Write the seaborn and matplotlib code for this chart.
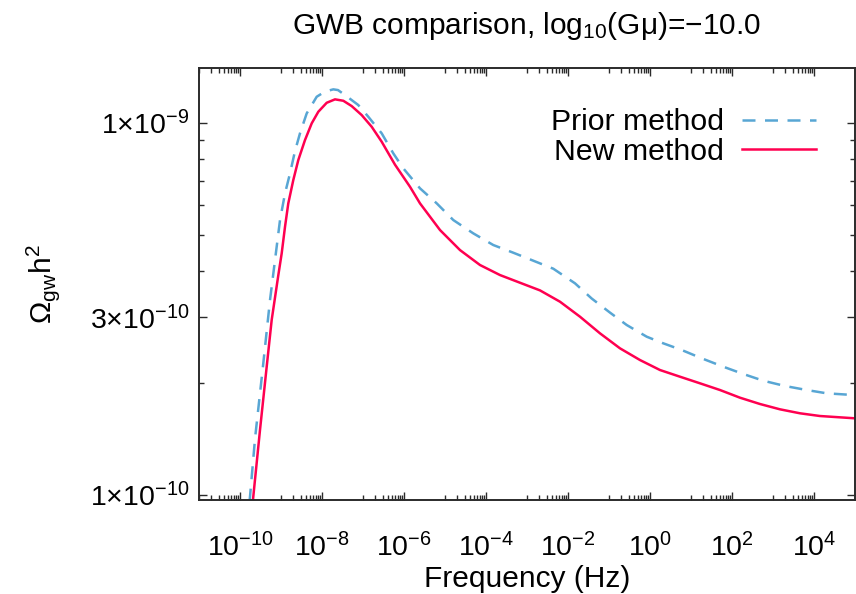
import numpy as np
import pandas as pd
import matplotlib
matplotlib.use('Agg')
import matplotlib.pyplot as plt
import seaborn as sns
from matplotlib.ticker import FixedLocator, FixedFormatter, NullFormatter

# =============================================================================
# Data (log10 of frequency in Hz, log10 of Omega_gw h^2)
# =============================================================================

prior_logf = [-9.93, -9.756, -9.634, -9.432, -9.268, -9.146, -9.024, -8.902,
              -8.780, -8.659, -8.537, -8.373, -8.129, -7.927, -7.724, -7.61,
              -7.439, -7.115, -6.871, -6.544, -6.261, -6.017, -5.610, -5.202,
              -4.798, -4.310, -3.822, -3.334, -2.968, -2.359, -1.829, -1.422,
              -0.976, -0.568, -0.080, 0.324, 0.773, 1.261, 1.788, 2.276,
              2.763, 3.293, 3.822, 4.310, 4.959, 5.0]
prior_logom = [-10.2, -10.006, -9.85, -9.647, -9.4765, -9.3688, -9.2611, -9.1892,
               -9.1354, -9.0757, -9.0277, -8.974, -8.9292, -8.9152, -8.9093, -8.9112,
               -8.9246, -8.9515, -8.983, -9.0277, -9.0816, -9.122, -9.1758, -9.2162,
               -9.2611, -9.297, -9.3284, -9.3491, -9.3652, -9.3921, -9.4315, -9.4724,
               -9.5103, -9.5437, -9.5752, -9.593, -9.611, -9.6334, -9.656, -9.6756,
               -9.6937, -9.7079, -9.7187, -9.7276, -9.7322, -9.7325]

new_logf = [-9.85, -9.676, -9.512, -9.349, -9.227, -9.066, -8.983, -8.902,
            -8.822, -8.700, -8.578, -8.415, -8.251, -8.090, -7.885, -7.683,
            -7.480, -7.276, -7.032, -6.788, -6.544, -6.220, -5.854, -5.610,
            -5.122, -4.634, -4.146, -3.659, -3.171, -2.683, -2.195, -1.707,
            -1.220, -0.732, -0.244, 0.244, 0.732, 1.220, 1.707, 2.195,
            2.683, 3.171, 3.659, 4.146, 5.0]
new_logom = [-10.2, -10.006, -9.826, -9.656, -9.530, -9.41, -9.3507, -9.2791,
             -9.2162, -9.1534, -9.0996, -9.0458, -9.0008, -8.9696, -8.9454, -8.9362,
             -8.9400, -8.9543, -8.9785, -9.0100, -9.0503, -9.112, -9.1715, -9.2162,
             -9.288, -9.342, -9.3822, -9.4092, -9.4299, -9.4505, -9.481, -9.5214,
             -9.5661, -9.6065, -9.638, -9.6649, -9.6829, -9.7007, -9.7187, -9.7394,
             -9.7564, -9.7707, -9.7814, -9.7887, -9.7949]

methods = ['Prior method', 'New method']
colors = {'Prior method': '#58a6d4', 'New method': '#ff0050'}

x_major = [1e-10, 1e-8, 1e-6, 1e-4, 1e-2, 1e0, 1e2, 1e4]
x_major_labels = ['$10^{-10}$', '$10^{-8}$', '$10^{-6}$', '$10^{-4}$',
                  '$10^{-2}$', '$10^{0}$', '$10^{2}$', '$10^{4}$']
y_major = [1e-10, 3e-10, 1e-9]
y_major_labels = ['1×10$^{-10}$', '3×10$^{-10}$', '1×10$^{-9}$']

# =============================================================================
# Plot
# =============================================================================

df = pd.concat([
    pd.DataFrame({'freq': 10.0 ** np.array(prior_logf),
                  'omega': 10.0 ** np.array(prior_logom),
                  'method': 'Prior method'}),
    pd.DataFrame({'freq': 10.0 ** np.array(new_logf),
                  'omega': 10.0 ** np.array(new_logom),
                  'method': 'New method'}),
], ignore_index=True)

plt.rcParams['font.family'] = ['Liberation Sans', 'DejaVu Sans']
plt.rcParams['mathtext.default'] = 'regular'

W, H = 856, 594
fig = plt.figure(figsize=(W / 100, H / 100), dpi=100)
ax = fig.add_axes([199 / W, 94 / H, 656 / W, 432.3 / H])
ax.set_xscale('log')
ax.set_yscale('log')

sns.lineplot(data=df, x='freq', y='omega', hue='method', style='method',
             hue_order=methods, style_order=methods, palette=colors,
             dashes={'Prior method': (5.2, 3.8), 'New method': ''},
             estimator=None, sort=False, lw=1.8, ax=ax)

ax.set_xlim(1e-11, 1e5)
ax.set_ylim(9.665e-11, 1.4093e-9)

ax.xaxis.set_major_locator(FixedLocator(x_major))
ax.xaxis.set_major_formatter(FixedFormatter(x_major_labels))
x_minor = [k * 10.0 ** n for n in range(-11, 4, 2) for k in range(1, 10)]
ax.xaxis.set_minor_locator(FixedLocator(x_minor))
ax.xaxis.set_minor_formatter(NullFormatter())

ax.yaxis.set_major_locator(FixedLocator(y_major))
ax.yaxis.set_major_formatter(FixedFormatter(y_major_labels))
y_minor = [k * 1e-10 for k in [2, 4, 5, 6, 7, 8, 9]]
ax.yaxis.set_minor_locator(FixedLocator(y_minor))
ax.yaxis.set_minor_formatter(NullFormatter())

ax.tick_params(which='both', direction='in', top=True, right=True,
               colors='#2b2b2b', labelcolor='black', width=1.0)
ax.tick_params(which='major', length=6, labelsize=20.5)
ax.tick_params(which='minor', length=3.5)
ax.tick_params(axis='y', which='major', pad=7)
ax.tick_params(axis='x', which='major', pad=24)

for s in ax.spines.values():
    s.set_color('#2b2b2b')
    s.set_linewidth(1.4)

ax.set_xlabel('Frequency (Hz)', fontsize=21.5, labelpad=2)
ax.set_ylabel('Ω$_{gw}$h$^2$', fontsize=21.5)
ax.yaxis.set_label_coords(-0.209, 0.5)
ax.set_title('GWB comparison, log$_{10}$(Gμ)=−10.0', fontsize=21.5, pad=24)

handles, labels = ax.get_legend_handles_labels()
leg = ax.legend(handles, labels, loc='upper right', bbox_to_anchor=(0.9405, 0.9065),
                markerfirst=False, frameon=False, handlelength=2.45,
                handletextpad=0.6, labelspacing=0.05, fontsize=21.8,
                borderpad=0, borderaxespad=0)
for h in leg.get_lines():
    h.set_linewidth(1.8)

fig.savefig('out.png', dpi=100)
